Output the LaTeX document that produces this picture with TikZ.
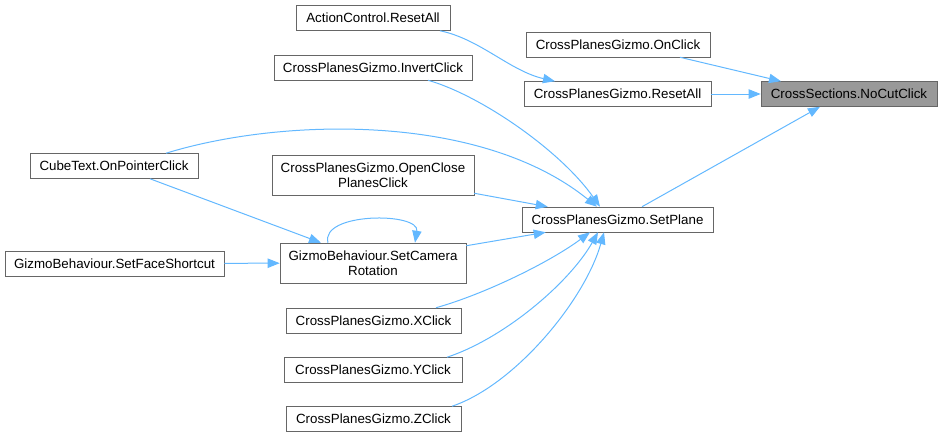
\documentclass[tikz,border=0pt]{standalone}
\usepackage{fontspec}
\setmainfont{Liberation Sans}
\usetikzlibrary{arrows.meta,calc}
\usepackage{xcolor}
\definecolor{Frame}{HTML}{666666}
\definecolor{Hilite}{HTML}{999999}
\definecolor{Link}{HTML}{63B8FF}

\begin{document}
\begin{tikzpicture}[x=0.75pt,y=-0.75pt,
    box/.style={draw=Frame,fill=white,inner sep=0pt,minimum height=18.75pt,align=center,font=\fontsize{10}{11.5}\selectfont},
    tallbox/.style={box,minimum height=30pt},
    current/.style={box,fill=Hilite},
    call/.style={draw=Link,line width=0.75pt,-{Triangle[length=9pt,width=7pt]}}
  ]
    \useasboundingbox (0,0) rectangle (943,437);
    % callee
    \node[current,minimum width=132pt] (nocut) at (849,94) {CrossSections.NoCutClick};
    % first level
    \node[box,minimum width=138pt] (onclick) at (618,44.5) {CrossPlanesGizmo.OnClick};
    \node[box,minimum width=140.25pt] (cpreset) at (617.5,94) {CrossPlanesGizmo.ResetAll};
    \node[box,minimum width=143.25pt] (setplane) at (617.5,219.5) {CrossPlanesGizmo.SetPlane};
    % second level
    \node[box,minimum width=115.5pt] (acreset) at (373,18) {ActionControl.ResetAll};
    \node[box,minimum width=148.5pt] (invert) at (373,67.5) {CrossPlanesGizmo.InvertClick};
    \node[tallbox,minimum width=151.5pt] (openclose) at (373,175) {CrossPlanesGizmo.OpenClose\\PlanesClick};
    \node[tallbox,minimum width=139.5pt] (camrot) at (373,263) {GizmoBehaviour.SetCamera\\Rotation};
    \node[box,minimum width=131.25pt] (xclick) at (373.5,320.5) {CrossPlanesGizmo.XClick};
    \node[box,minimum width=133.5pt] (yclick) at (373,370) {CrossPlanesGizmo.YClick};
    \node[box,minimum width=131.25pt] (zclick) at (373.5,419) {CrossPlanesGizmo.ZClick};
    % third level
    \node[box,minimum width=126pt] (cubetext) at (114,166) {CubeText.OnPointerClick};
    \node[box,minimum width=164.25pt] (facesc) at (114.5,263.5) {GizmoBehaviour.SetFaceShortcut};

    % into NoCutClick
    \draw[call] ($(onclick.south)+(62,0)$) -- ($(nocut.north)+(-68,0)$);
    \draw[call] (cpreset) -- (nocut);
    \draw[call] ($(setplane.north)+(24.5,0)$) -- ($(nocut.south)+(-29,0)$);
    % into ResetAll
    \draw[call] ($(acreset.south)+(67,0)$) .. controls (480,39) and (510,71) .. ($(cpreset.north)+(-62.5,0)$);
    % into SetPlane
    \draw[call] ($(invert.south)+(55,0)$) .. controls (480,95) and (560,150) .. ($(setplane.north)+(-17.5,0)$);
    \draw[call] ($(cubetext.north)+(52,0)$) .. controls (280,118) and (480,112) .. ($(setplane.north)+(-20.5,0)$);
    \draw[call] ($(openclose.south east)+(0,-2)$) -- ($(setplane.north west)+(26,0)$);
    \draw[call] ($(camrot.north east)+(0,3)$) -- ($(setplane.south west)+(24,0)$);
    \draw[call] ($(xclick.north)+(62.5,0)$) .. controls (485,294) and (550,262) .. ($(setplane.south)+(-27.5,0)$);
    \draw[call] ($(yclick.north)+(74,0)$) .. controls (505,338) and (570,282) .. ($(setplane.south)+(-19.5,0)$);
    \draw[call] ($(zclick.north)+(78.5,0)$) .. controls (515,385) and (585,300) .. ($(setplane.south)+(-13.5,0)$);
    % into SetCameraRotation
    \draw[call] ($(cubetext.south)+(36,0)$) -- ($(camrot.north)+(-52,0)$);
    \draw[call] ($(camrot.north)+(-45,0)$) .. controls (320,212) and (420,212) .. ($(camrot.north)+(42,0)$);
    \draw[call] (facesc) -- (camrot);
  \end{tikzpicture}
\end{document}
